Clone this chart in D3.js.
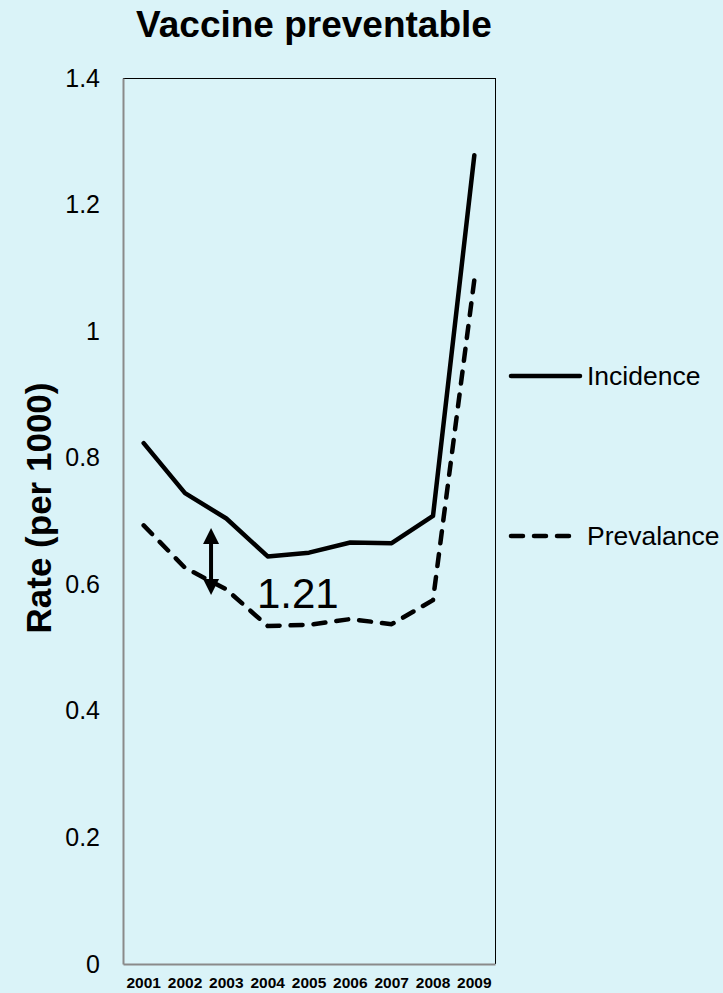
<!DOCTYPE html>
<html>
<head>
<meta charset="utf-8">
<script src="https://cdn.jsdelivr.net/npm/d3@7"></script>
<style>
  html, body { margin: 0; padding: 0; background: #DAF3F8; }
  svg { display: block; font-family: "Liberation Sans", Arial, sans-serif; }
</style>
</head>
<body>
<svg id="chart" width="723" height="993"></svg>
<script>
// Rates per 1000, 2001-2009
const years = ["2001", "2002", "2003", "2004", "2005", "2006", "2007", "2008", "2009"];
const incidence = [0.823, 0.744, 0.704, 0.644, 0.650, 0.666, 0.665, 0.708, 1.278];
const prevalance = [0.693, 0.626, 0.592, 0.534, 0.536, 0.545, 0.537, 0.575, 1.081];
const yTicks = [0, 0.2, 0.4, 0.6, 0.8, 1, 1.2, 1.4];
const seriesNames = ["Incidence", "Prevalance"];
const ratioLabel = "1.21";

const svg = d3.select("#chart");
const plot = { left: 123, right: 495, top: 78, bottom: 964 };

const x = d3.scaleBand().domain(years).range([plot.left, plot.right]);
const y = d3.scaleLinear().domain([0, 1.4]).range([plot.bottom, plot.top]);
const cx = d => x(d) + x.bandwidth() / 2;

// Title
svg.append("text")
  .attr("x", 314).attr("y", 37)
  .attr("text-anchor", "middle")
  .attr("font-size", 37).attr("font-weight", "bold")
  .text("Vaccine preventable");

// Plot frame: gray left/bottom axes, thin black top/right
svg.append("line").attr("x1", plot.left).attr("x2", plot.right)
  .attr("y1", plot.top + 0.5).attr("y2", plot.top + 0.5)
  .attr("stroke", "#000").attr("stroke-width", 1);
svg.append("line").attr("x1", plot.right + 0.5).attr("x2", plot.right + 0.5)
  .attr("y1", plot.top).attr("y2", plot.bottom)
  .attr("stroke", "#000").attr("stroke-width", 1);

const yAxis = d3.axisLeft(y).tickValues(yTicks).tickSize(0).tickPadding(23)
  .tickFormat(d => String(d));
const gy = svg.append("g").attr("transform", `translate(${plot.left},0)`).call(yAxis);
gy.select(".domain").attr("stroke", "#8a8a8a").attr("stroke-width", 2);
gy.selectAll("text").attr("font-size", 25).attr("fill", "#000")
  .attr("font-family", "Liberation Sans, Arial, sans-serif");

const xAxis = d3.axisBottom(x).tickSize(0).tickPadding(13);
const gx = svg.append("g").attr("transform", `translate(0,${plot.bottom})`).call(xAxis);
gx.select(".domain").attr("stroke", "#8a8a8a").attr("stroke-width", 2);
gx.selectAll("text").attr("font-size", 15.5).attr("font-weight", "bold").attr("fill", "#000")
  .attr("font-family", "Liberation Sans, Arial, sans-serif");

// Y axis title
svg.append("text")
  .attr("transform", `translate(51,508) rotate(-90)`)
  .attr("text-anchor", "middle")
  .attr("font-size", 35).attr("font-weight", "bold")
  .text("Rate (per 1000)");

// Lines
const line = d3.line().x((d, i) => cx(years[i])).y(d => y(d));
const dash = "12,11";
svg.append("path").datum(incidence)
  .attr("d", line).attr("fill", "none").attr("stroke", "#000")
  .attr("stroke-width", 4.5).attr("stroke-linejoin", "round").attr("stroke-linecap", "round");
svg.append("path").datum(prevalance)
  .attr("d", line).attr("fill", "none").attr("stroke", "#000")
  .attr("stroke-width", 4.5).attr("stroke-dasharray", dash)
  .attr("stroke-linejoin", "round").attr("stroke-linecap", "round");

// Double-headed arrow showing the gap between the series near 2002-2003
const ax = x("2002") + x.bandwidth() * 1.13;
const aTop = y(0.689), aBot = y(0.583);
const head = 16, halfW = 8;
svg.append("line").attr("x1", ax).attr("x2", ax)
  .attr("y1", aTop + head - 1).attr("y2", aBot - head + 1)
  .attr("stroke", "#000").attr("stroke-width", 4);
svg.append("path")
  .attr("d", `M${ax},${aTop} L${ax - halfW},${aTop + head} L${ax + halfW},${aTop + head} Z`)
  .attr("fill", "#000");
svg.append("path")
  .attr("d", `M${ax},${aBot} L${ax - halfW},${aBot - head} L${ax + halfW},${aBot - head} Z`)
  .attr("fill", "#000");

svg.append("text")
  .attr("x", x("2004") + x.bandwidth() * 1.23).attr("y", 608)
  .attr("text-anchor", "middle").attr("font-size", 42)
  .text(ratioLabel);

// Legend
const legend = svg.append("g");
const legendY = [376, 536];
seriesNames.forEach((name, i) => {
  const g = legend.append("g");
  g.append("line")
    .attr("x1", 511).attr("x2", i === 0 ? 580 : 571)
    .attr("y1", legendY[i]).attr("y2", legendY[i])
    .attr("stroke", "#000").attr("stroke-width", 4.5)
    .attr("stroke-linecap", "round")
    .attr("stroke-dasharray", i === 0 ? null : dash);
  g.append("text")
    .attr("x", 587).attr("y", legendY[i] + 9)
    .attr("font-size", 26.5)
    .text(name);
});
</script>
</body>
</html>
